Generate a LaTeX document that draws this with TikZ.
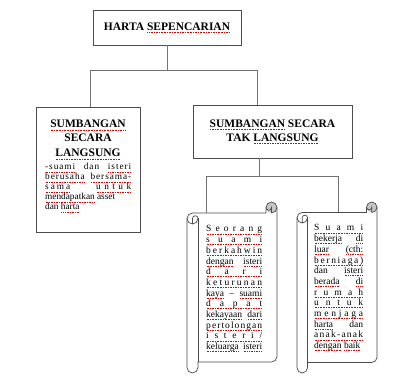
\documentclass[tikz,border=0pt]{standalone}
\usepackage{fontspec}
\setmainfont{Liberation Serif}
\newfontfamily\lsp{Liberation Serif}[LetterSpace=10]
\makeatletter
\def\spr@#1#2\@nil{#1\ifx\relax#2\relax\else\hfill\spr@#2\@nil\fi}
\newcommand\sq[1]{\setbox0\hbox{#1}\rlap{\raisebox{-2.3pt}{\color{red!85!black}\hbox to\wd0{\xleaders\hbox to 1.6pt{\hss\rule{0.75pt}{0.75pt}\hss}\hfill}}}\box0\relax}
\newcommand\SPW[2]{\sq{\hbox to #1{\spr@#2\@nil}}}
\makeatother
\newcommand\Lin[1]{\hbox to\W{#1}}
\newcommand\SP[1]{\Lin{\SPW{\W}{#1}}}
\newcommand\txtblock[3]{\vtop{\def\W{#1}\baselineskip=#2\lineskiplimit=-100pt\lineskip=0pt\relax #3}}
\newcommand\scrollshape[5]{%
 \pgfmathsetmacro\sH{#5/2}\pgfmathsetmacro\sQ{#5/4}%
 \pgfmathsetmacro\yA{#2+#5}\pgfmathsetmacro\yB{#2+#5/2}%
 \pgfmathsetmacro\yC{#2+1.5*#5}\pgfmathsetmacro\yD{#2+2*#5}%
 \pgfmathsetmacro\yE{#4-#5}\pgfmathsetmacro\yF{#4-#5/2}\pgfmathsetmacro\yG{#4-1.5*#5}%
 \pgfmathsetmacro\xA{#1+#5/2}\pgfmathsetmacro\xB{#1+#5}%
 \pgfmathsetmacro\xC{#3-#5}\pgfmathsetmacro\xD{#3-#5/2}%
 \fill[white] (#1,\yC) arc[start angle=180,end angle=90,radius=\sH pt] -- (\xC,\yA) -- (\xC,\yB)
   arc[start angle=180,end angle=0,radius=\sH pt] -- (#3,\yG)
   arc[start angle=0,end angle=-90,radius=\sH pt] -- (\xB,\yE) -- (\xB,\yF)
   arc[start angle=0,end angle=-180,radius=\sH pt] -- cycle;
 \fill[gray!45] (\xD,\yB) circle[radius=\sH pt];
 \draw[sline] (#1,\yC) arc[start angle=180,end angle=90,radius=\sH pt] -- (\xC,\yA) -- (\xC,\yB)
   arc[start angle=180,end angle=0,radius=\sH pt] -- (#3,\yG)
   arc[start angle=0,end angle=-90,radius=\sH pt] -- (\xB,\yE) -- (\xB,\yF)
   arc[start angle=0,end angle=-180,radius=\sH pt] -- cycle;
 \draw[sline] (\xD,\yA) arc[start angle=-90,end angle=0,radius=\sH pt];
 \draw[sline] (\xD,\yA) -- (\xD,\yB) arc[start angle=0,end angle=-180,radius=\sQ pt];
 \draw[sline] (\xA,\yD) -- (\xA,\yC) arc[start angle=180,end angle=0,radius=\sQ pt]
   arc[start angle=0,end angle=-180,radius=\sH pt];
 \draw[sline] (\xB,\yC) -- (\xB,\yE);
}
\begin{document}
\begin{tikzpicture}[x=1pt,y=-1pt,
  box/.style={draw=black!70, line width=0.8pt, fill=white, inner sep=0pt},
  conn/.style={draw=black!55, line width=0.8pt},
  sline/.style={draw=black!70, line width=0.7pt},
  ttl/.style={font=\fontsize{11.5}{14}\selectfont\bfseries, inner sep=0pt},
  body/.style={font=\fontsize{9.5}{10.7}\selectfont, inner sep=0pt, anchor=base west}]
\useasboundingbox (0,0) rectangle (400,387);
\fill[white] (0,0) rectangle (400,387);

% connectors (upper level)
\coordinate (j1) at (167,70);
\coordinate (jl) at (90,70);
\coordinate (jr) at (257,70);

\node[box, ttl, minimum width=148pt, minimum height=35pt] (top) at (167,27.5) {HARTA \sq{SEPENCARIAN}};
\node[box, minimum width=104pt, minimum height=125pt] (left) at (88,169.5) {};
\node[box, ttl, align=center, minimum width=159pt, minimum height=53pt] (right) at (272.5,131.5) {\sq{SUMBANGAN} SECARA\\TAK \sq{LANGSUNG}};

\draw[conn] (top.south) -- (j1);
\draw[conn] (jl) -- (jr);
\draw[conn] (jl) -- (jl |- left.north);
\draw[conn] (jr) -- (jr |- right.north);

\node[ttl, anchor=base] (l1) at (88,128) {\sq{SUMBANGAN}};
\node[ttl, anchor=base] (l2) at (88,142) {SECARA};
\node[ttl, anchor=base] (l3) at (88,157) {\sq{LANGSUNG}};
\node[body, font=\fontsize{9.3}{10}\selectfont] (lt) at (45,170) {\txtblock{86pt}{10pt}{%
  \Lin{\lsp\sq{-suami}\hfill dan\hfill\sq{isteri}}
  \Lin{\lsp\sq{berusaha}\hfill\sq{bersama-}}
  \Lin{\SPW{25pt}{sama}\hfill\SPW{35pt}{untuk}}
  \Lin{\sq{mendapatkan} asset\hfil}
  \Lin{dan \sq{harta}\hfil}}};

% scrolls
\scrollshape{187}{202}{277}{373}{11}
\scrollshape{297}{202}{377}{373}{10.5}
\coordinate (s1top) at (206,213);
\coordinate (s2top) at (338,212.5);
\coordinate (j3) at (259,176);
\coordinate (jl2) at (206,176);
\coordinate (jr2) at (338,176);
\draw[conn] (right.south -| j3) -- (j3);
\draw[conn] (jl2) -- (jr2);
\draw[conn] (jl2) -- (s1top);
\draw[conn] (jr2) -- (s2top);

\node[body] (st1) at (206,232) {\txtblock{56pt}{10.7pt}{%
  \SP{Seorang}
  \SP{suami}
  \SP{berkahwin}
  \Lin{\sq{dengan}\hfill\sq{isteri}}
  \SP{dari}
  \SP{keturunan}
  \Lin{\sq{kaya}\hfill–\hfill\sq{suami}}
  \SP{dapat}
  \Lin{\sq{kekayaan}\hfill\sq{dari}}
  \SP{pertolongan}
  \SP{isteri/}
  \Lin{\sq{keluarga}\hfill\sq{isteri}}}};

\node[body] (st2) at (314,231) {\txtblock{49pt}{10.7pt}{%
  \SP{Suami}
  \Lin{\sq{bekerja}\hfill\sq{di}}
  \Lin{\sq{luar}\hfill\sq{(cth:}}
  \SP{berniaga)}
  \Lin{dan\hfill\sq{isteri}}
  \Lin{\sq{berada}\hfill\sq{di}}
  \SP{rumah}
  \SP{untuk}
  \SP{menjaga}
  \Lin{\sq{harta}\hfill dan}
  \SP{anak-anak}
  \Lin{\sq{dengan} \sq{baik}\hfil}}};
\end{tikzpicture}
\end{document}
